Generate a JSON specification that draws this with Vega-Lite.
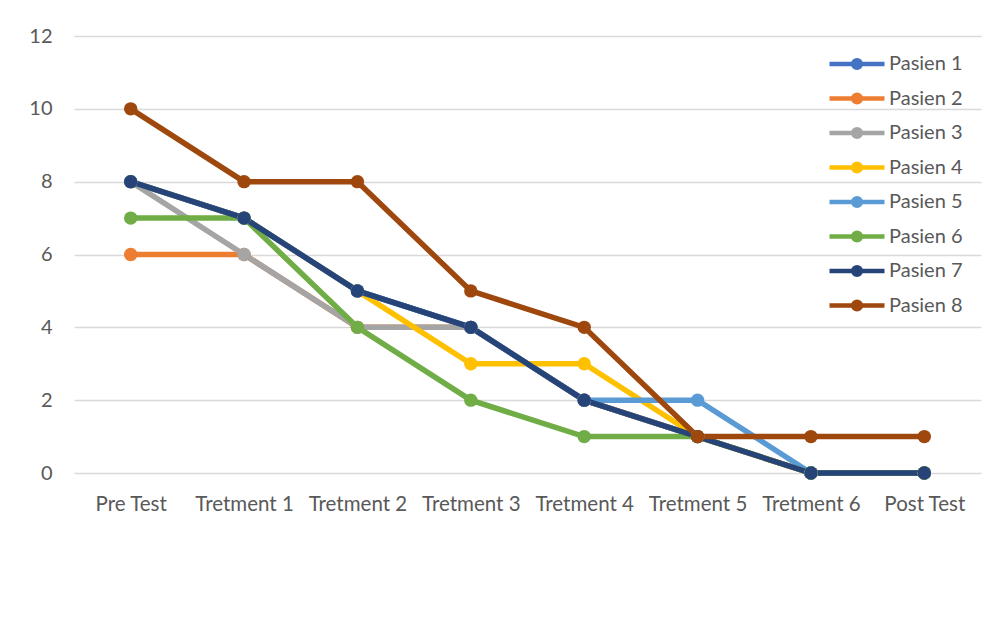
{
  "$schema": "https://vega.github.io/schema/vega-lite/v6.json",
  "width": 907,
  "height": 437,
  "autosize": {"type": "none"},
  "padding": {"left": 74, "top": 36, "right": 21, "bottom": 160},
  "background": "white",
  "config": {
    "view": {"stroke": null},
    "font": "Lato"
  },
  "data": {
    "values": [
      {"k": "Pre Test", "p": "Pasien 1", "v": 8}, {"k": "Tretment 1", "p": "Pasien 1", "v": 7}, {"k": "Tretment 2", "p": "Pasien 1", "v": 5}, {"k": "Tretment 3", "p": "Pasien 1", "v": 4}, {"k": "Tretment 4", "p": "Pasien 1", "v": 2}, {"k": "Tretment 5", "p": "Pasien 1", "v": 1}, {"k": "Tretment 6", "p": "Pasien 1", "v": 0}, {"k": "Post Test", "p": "Pasien 1", "v": 0},
      {"k": "Pre Test", "p": "Pasien 2", "v": 6}, {"k": "Tretment 1", "p": "Pasien 2", "v": 6}, {"k": "Tretment 2", "p": "Pasien 2", "v": 4}, {"k": "Tretment 3", "p": "Pasien 2", "v": 4}, {"k": "Tretment 4", "p": "Pasien 2", "v": 2}, {"k": "Tretment 5", "p": "Pasien 2", "v": 1}, {"k": "Tretment 6", "p": "Pasien 2", "v": 0}, {"k": "Post Test", "p": "Pasien 2", "v": 0},
      {"k": "Pre Test", "p": "Pasien 3", "v": 8}, {"k": "Tretment 1", "p": "Pasien 3", "v": 6}, {"k": "Tretment 2", "p": "Pasien 3", "v": 4}, {"k": "Tretment 3", "p": "Pasien 3", "v": 4}, {"k": "Tretment 4", "p": "Pasien 3", "v": 2}, {"k": "Tretment 5", "p": "Pasien 3", "v": 1}, {"k": "Tretment 6", "p": "Pasien 3", "v": 0}, {"k": "Post Test", "p": "Pasien 3", "v": 0},
      {"k": "Pre Test", "p": "Pasien 4", "v": 8}, {"k": "Tretment 1", "p": "Pasien 4", "v": 7}, {"k": "Tretment 2", "p": "Pasien 4", "v": 5}, {"k": "Tretment 3", "p": "Pasien 4", "v": 3}, {"k": "Tretment 4", "p": "Pasien 4", "v": 3}, {"k": "Tretment 5", "p": "Pasien 4", "v": 1}, {"k": "Tretment 6", "p": "Pasien 4", "v": 0}, {"k": "Post Test", "p": "Pasien 4", "v": 0},
      {"k": "Pre Test", "p": "Pasien 5", "v": 8}, {"k": "Tretment 1", "p": "Pasien 5", "v": 7}, {"k": "Tretment 2", "p": "Pasien 5", "v": 5}, {"k": "Tretment 3", "p": "Pasien 5", "v": 4}, {"k": "Tretment 4", "p": "Pasien 5", "v": 2}, {"k": "Tretment 5", "p": "Pasien 5", "v": 2}, {"k": "Tretment 6", "p": "Pasien 5", "v": 0}, {"k": "Post Test", "p": "Pasien 5", "v": 0},
      {"k": "Pre Test", "p": "Pasien 6", "v": 7}, {"k": "Tretment 1", "p": "Pasien 6", "v": 7}, {"k": "Tretment 2", "p": "Pasien 6", "v": 4}, {"k": "Tretment 3", "p": "Pasien 6", "v": 2}, {"k": "Tretment 4", "p": "Pasien 6", "v": 1}, {"k": "Tretment 5", "p": "Pasien 6", "v": 1}, {"k": "Tretment 6", "p": "Pasien 6", "v": 0}, {"k": "Post Test", "p": "Pasien 6", "v": 0},
      {"k": "Pre Test", "p": "Pasien 7", "v": 8}, {"k": "Tretment 1", "p": "Pasien 7", "v": 7}, {"k": "Tretment 2", "p": "Pasien 7", "v": 5}, {"k": "Tretment 3", "p": "Pasien 7", "v": 4}, {"k": "Tretment 4", "p": "Pasien 7", "v": 2}, {"k": "Tretment 5", "p": "Pasien 7", "v": 1}, {"k": "Tretment 6", "p": "Pasien 7", "v": 0}, {"k": "Post Test", "p": "Pasien 7", "v": 0},
      {"k": "Pre Test", "p": "Pasien 8", "v": 10}, {"k": "Tretment 1", "p": "Pasien 8", "v": 8}, {"k": "Tretment 2", "p": "Pasien 8", "v": 8}, {"k": "Tretment 3", "p": "Pasien 8", "v": 5}, {"k": "Tretment 4", "p": "Pasien 8", "v": 4}, {"k": "Tretment 5", "p": "Pasien 8", "v": 1}, {"k": "Tretment 6", "p": "Pasien 8", "v": 1}, {"k": "Post Test", "p": "Pasien 8", "v": 1}
    ]
  },
  "mark": {"type": "line", "strokeWidth": 5.5, "point": {"filled": true, "size": 180, "opacity": 1}},
  "encoding": {
    "x": {
      "field": "k", "type": "nominal",
      "sort": ["Pre Test", "Tretment 1", "Tretment 2", "Tretment 3", "Tretment 4", "Tretment 5", "Tretment 6", "Post Test"],
      "scale": {"type": "point", "padding": 0.5},
      "axis": {"title": null, "labelAngle": 0, "domain": false, "ticks": false, "grid": false, "labelFontSize": 20.5, "labelColor": "#595959", "labelPadding": 21, "labelOverlap": false}
    },
    "y": {
      "field": "v", "type": "quantitative",
      "scale": {"domain": [0, 12], "nice": false, "zero": true},
      "axis": {"title": null, "values": [0, 2, 4, 6, 8, 10, 12], "domain": false, "ticks": false, "grid": true, "gridColor": "#D9D9D9", "gridWidth": 1.5, "labelFontSize": 20, "labelColor": "#595959", "labelPadding": 22}
    },
    "color": {
      "field": "p", "type": "nominal",
      "scale": {
        "domain": ["Pasien 1", "Pasien 2", "Pasien 3", "Pasien 4", "Pasien 5", "Pasien 6", "Pasien 7", "Pasien 8"],
        "range": ["#4472C4", "#ED7D31", "#A5A5A5", "#FFC000", "#5B9BD5", "#70AD47", "#264478", "#9E480E"]
      },
      "legend": {
        "title": null,
        "orient": "none",
        "legendX": 767,
        "legendY": 12,
        "symbolType": "M-2,0H2M-0.28,0A0.28,0.28,0,1,0,0.28,0A0.28,0.28,0,1,0,-0.28,0",
        "symbolSize": 756,
        "symbolStrokeWidth": 4.5,
        "labelFontSize": 20,
        "labelColor": "#595959",
        "labelOffset": 16,
        "rowPadding": 5.5
      }
    }
  }
}
